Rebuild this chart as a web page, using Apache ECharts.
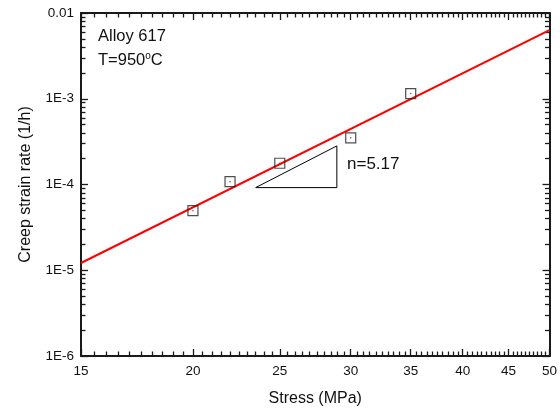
<!DOCTYPE html>
<html><head><meta charset="utf-8">
<script src="https://cdn.jsdelivr.net/npm/echarts@6/dist/echarts.min.js"></script>
<style>html,body{margin:0;padding:0;background:#fff}#c{width:560px;height:412px}</style>
</head><body><div id="c"></div>
<script>
// Data
const stress = [20, 22, 25, 30, 35];
const strainRate = [4.95e-5, 1.08e-4, 1.77e-4, 3.5e-4, 1.15e-3];
const fitStress = [15, 50];
const fitRate = [1.215e-5, 6.3e-3];
const triStress = [23.5, 28.95, 28.95, 23.5];
const triRate = [9.2e-5, 9.2e-5, 2.82e-4, 9.2e-5];
const xTicks = [15, 20, 25, 30, 35, 40, 45, 50];
const yTicks = [1e-6, 1e-5, 1e-4, 1e-3, 1e-2];
const yTickLabels = ['1E-6', '1E-5', '1E-4', '1E-3', '0.01'];

const xMinor = [];
for (let v = 15.5; v < 50; v += 0.5) if (xTicks.indexOf(v) < 0) xMinor.push(v);
const yMinor = [];
for (let e = -6; e < -2; e++) for (let m = 2; m <= 9; m++) yMinor.push(m * Math.pow(10, e));

const FONT = '"Liberation Sans", Arial, sans-serif';
const AX = '#1a1a1a';

function xAxis(pos, ticks, len, withLine, withLabels) {
  const a = {
    type: 'log', logBase: 10, min: 15, max: 50, position: pos,
    axisLine: {show: withLine, lineStyle: {color: AX, width: 2}},
    axisTick: {show: true, inside: true, length: len, customValues: ticks, lineStyle: {color: AX, width: 1.3}},
    axisLabel: {show: withLabels, customValues: ticks, fontSize: 13.5, color: '#111', fontFamily: FONT, margin: 8,
      formatter: v => String(Math.round(v))},
    splitLine: {show: false}, minorTick: {show: false}
  };
  if (withLabels) {
    a.name = 'Stress (MPa)'; a.nameLocation = 'middle'; a.nameGap = 35;
    a.nameTextStyle = {fontSize: 16, color: '#111', fontFamily: FONT};
  }
  return a;
}
function yAxis(pos, ticks, len, withLine, withLabels) {
  const a = {
    type: 'log', logBase: 10, min: 1e-6, max: 1e-2, position: pos,
    axisLine: {show: withLine, lineStyle: {color: AX, width: 2}},
    axisTick: {show: true, inside: true, length: len, customValues: ticks, lineStyle: {color: AX, width: 1.3}},
    axisLabel: {show: withLabels, customValues: ticks, fontSize: 13.5, color: '#111', fontFamily: FONT, margin: 7,
      formatter: v => { const i = yTicks.findIndex(t => Math.abs(Math.log10(t) - Math.log10(v)) < 1e-6); return i >= 0 ? yTickLabels[i] : ''; }},
    splitLine: {show: false}, minorTick: {show: false}
  };
  if (withLabels) {
    a.name = 'Creep strain rate (1/h)'; a.nameLocation = 'middle'; a.nameGap = 47;
    a.nameTextStyle = {fontSize: 16, color: '#111', fontFamily: FONT};
  }
  return a;
}

const chart = echarts.init(document.getElementById('c'), null, {renderer: 'canvas'});
chart.setOption({
  animation: false,
  backgroundColor: '#fff',
  textStyle: {fontFamily: FONT},
  grid: {left: 81, right: 10, top: 13, bottom: 54, containLabel: false},
  xAxis: [
    xAxis('bottom', xTicks, 7, true, true),
    xAxis('bottom', xMinor, 4.5, false, false),
    xAxis('top', xTicks, 7, true, false),
    xAxis('top', xMinor, 4.5, false, false)
  ],
  yAxis: [
    yAxis('left', yTicks, 7, true, true),
    yAxis('left', yMinor, 4.5, false, false),
    yAxis('right', yTicks, 7, true, false),
    yAxis('right', yMinor, 4.5, false, false)
  ],
  series: [
    {type: 'line', data: fitStress.map((x, i) => [x, fitRate[i]]), showSymbol: false, symbol: 'none',
     lineStyle: {color: '#ff0000', width: 2}, z: 2, silent: true},
    {type: 'line', data: triStress.map((x, i) => [x, triRate[i]]), showSymbol: false, symbol: 'none',
     lineStyle: {color: '#000', width: 1}, z: 2, silent: true},
    {type: 'scatter', data: stress.map((x, i) => [x, strainRate[i]]), symbol: 'rect', symbolSize: 10,
     itemStyle: {color: 'rgba(255,255,255,0)', borderColor: '#222', borderWidth: 1.2}, z: 3},
    {type: 'scatter', data: stress.map((x, i) => [x, strainRate[i]]), symbol: 'circle', symbolSize: 1.6,
     itemStyle: {color: '#444'}, z: 4}
  ],
  graphic: [
    {type: 'text', left: 98, top: 28, style: {text: 'Alloy 617', font: '16.5px ' + FONT, fill: '#111'}},
    {type: 'text', left: 98, top: 51, style: {text: 'T=950{sup|o}C', font: '16.5px ' + FONT, fill: '#111',
      rich: {sup: {fontSize: 10, fontFamily: FONT, fill: '#111', padding: [0, 0, 8, 0]}}}},
    {type: 'text', left: 347, top: 156, style: {text: 'n=5.17', font: '17px ' + FONT, fill: '#111'}}
  ]
});
</script></body></html>
